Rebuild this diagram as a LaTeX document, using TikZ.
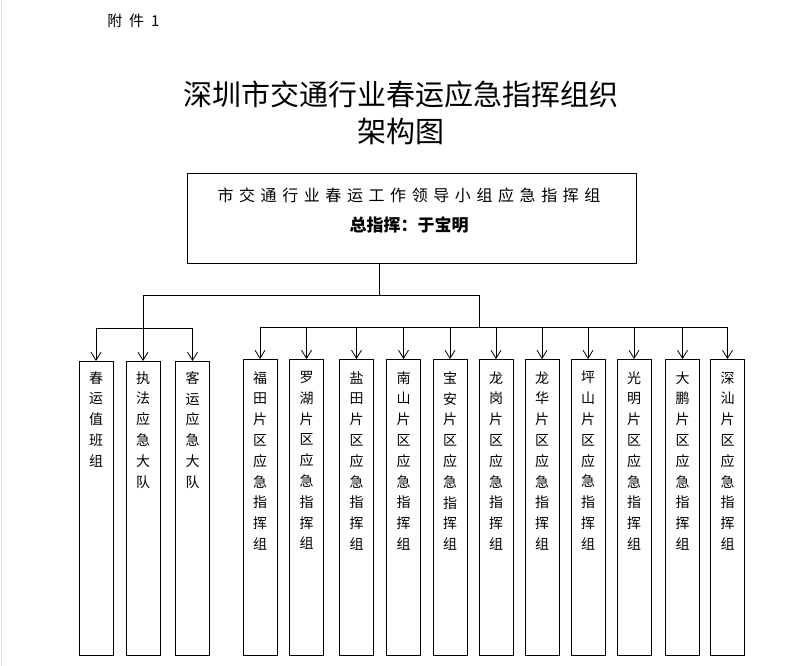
\documentclass[tikz,border=0pt]{standalone}
\usepackage{fontspec}
\setmainfont{Noto Sans CJK SC}
\usetikzlibrary{arrows.meta}
\begin{document}
\begin{tikzpicture}[x=1pt,y=-1pt,line width=0.8pt,
  ubox/.style={draw, minimum width=34pt, minimum height=#1, anchor=north, inner sep=0pt},
  vtext/.style={anchor=north, align=center, inner sep=0pt, font=\fontsize{14pt}{20.8pt}\selectfont},
  arr/.style={-{Straight Barb[length=8pt,width=10pt]}}]
\useasboundingbox (0,0) rectangle (793,666);
\draw[gray!25,line width=1pt] (1,0) -- (1,666);
% header
\node[anchor=west,inner sep=0pt,font=\fontsize{15pt}{15pt}\selectfont] (att) at (107,21) {\makebox[52pt][s]{附 件 1}};
\node[inner sep=0pt,font=\fontsize{29pt}{29pt}\selectfont] (t1) at (401,94) {深圳市交通行业春运应急指挥组织};
\node[inner sep=0pt,font=\fontsize{29pt}{29pt}\selectfont] (t2) at (401,131) {架构图};
% top box
\node[draw,minimum width=449pt,minimum height=90pt,anchor=north west,inner sep=0pt] (zb) at (187,173) {};
\node[inner sep=0pt,font=\fontsize{16pt}{16pt}\selectfont] (zl1) at (409,195) {\makebox[383pt][s]{市 交 通 行 业 春 运 工 作 领 导 小 组 应 急 指 挥 组}};
\node[inner sep=0pt,font=\fontsize{17pt}{17pt}\selectfont\bfseries] (zl2) at (409,225) {总指挥：于宝明};
% left group
\node[ubox=294pt] (l1) at (96,361) {};
\node[ubox=294pt] (l2) at (143,361) {};
\node[ubox=294pt] (l3) at (192.5,361) {};
\node[vtext] at ([yshift=-10pt]l1.north) {春\\运\\值\\班\\组};
\node[vtext] at ([yshift=-10pt]l2.north) {执\\法\\应\\急\\大\\队};
\node[vtext] at ([yshift=-10pt]l3.north) {客\\运\\应\\急\\大\\队};
% right group
\foreach \i/\x/\a/\b in {1/260/福/田,2/306.5/罗/湖,3/356.5/盐/田,4/403.5/南/山,5/450/宝/安,6/496/龙/岗,7/542/龙/华,8/588/坪/山,9/634/光/明,10/682.5/大/鹏,11/727.5/深/汕}{
  \node[ubox=296pt] (r\i) at (\x,359) {};
  \node[vtext] at ([yshift=-12pt]r\i.north) {\a\\\b\\片\\区\\应\\急\\指\\挥\\组};
}
% connectors
\coordinate (jA) at (379,295);
\coordinate (jL) at (143,295);
\coordinate (jR) at (479,295);
\coordinate (hR) at (479,327);
\draw (jA |- zb.south) -- (jA);
\draw (jL) -- (jR);
\draw[arr] (jL) -- (l2.north);
\draw (l1.north |- 0,328) -- (l3.north |- 0,328);
\draw[arr] (l1.north |- 0,328) -- (l1.north);
\draw[arr] (l3.north |- 0,328) -- (l3.north);
\draw (jR) -- (hR);
\draw (r1.north |- hR) -- (r11.north |- hR);
\foreach \i in {1,...,11}{
  \draw[arr] (r\i.north |- hR) -- (r\i.north);
}
\end{tikzpicture}
\end{document}
